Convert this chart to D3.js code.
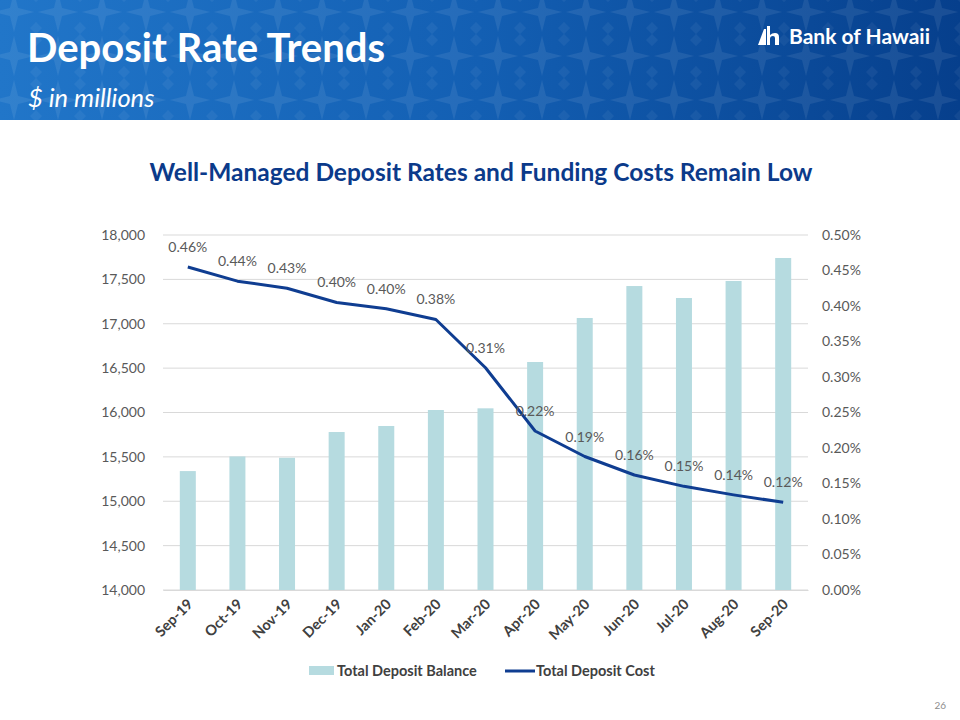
<!DOCTYPE html>
<html><head><meta charset="utf-8">
<script src="https://cdn.jsdelivr.net/npm/d3@7"></script>
<style>body{margin:0;background:#fff;}svg{display:block;font-family:Lato,"Open Sans",sans-serif;}</style>
</head><body>
<script>
const months = ["Sep-19","Oct-19","Nov-19","Dec-19","Jan-20","Feb-20","Mar-20","Apr-20","May-20","Jun-20","Jul-20","Aug-20","Sep-20"];
const balance = [15340,15505,15490,15780,15848,16028,16047,16569,17065,17425,17290,17482,17741];
const cost = [0.455,0.435,0.425,0.405,0.396,0.381,0.313,0.224,0.188,0.162,0.146,0.134,0.1235];
const costLabels = ["0.46%","0.44%","0.43%","0.40%","0.40%","0.38%","0.31%","0.22%","0.19%","0.16%","0.15%","0.14%","0.12%"];
const leftTicks = [14000,14500,15000,15500,16000,16500,17000,17500,18000];
const rightTicks = [0,0.05,0.10,0.15,0.20,0.25,0.30,0.35,0.40,0.45,0.50];

const W=960,H=720;
const svg=d3.select("body").append("svg").attr("width",W).attr("height",H);
const defs=svg.append("defs");
const g1=defs.append("linearGradient").attr("id","hdr").attr("x1","0").attr("x2","1").attr("y1","0").attr("y2","0");
g1.append("stop").attr("offset","0").attr("stop-color","#2176c9");
g1.append("stop").attr("offset","0.5").attr("stop-color","#135fb3");
g1.append("stop").attr("offset","1").attr("stop-color","#063f8c");
const pat=defs.append("pattern").attr("id","star").attr("width",44).attr("height",44).attr("patternUnits","userSpaceOnUse").attr("x",-8).attr("y",-10);
pat.append("path").attr("d","M22,2 L26,18 L42,22 L26,26 L22,42 L18,26 L2,22 L18,18Z").attr("fill","#ffffff").attr("opacity",0.08);
pat.append("path").attr("d","M0,0 L6,6 L0,12Z M44,0 L38,6 L44,12Z M0,44 L6,38 L0,32Z M44,44 L38,38 L44,32Z").attr("fill","#ffffff").attr("opacity",0.05);

svg.append("rect").attr("width",W).attr("height",120).attr("fill","url(#hdr)");
svg.append("rect").attr("width",W).attr("height",120).attr("fill","url(#star)");
svg.append("text").attr("x",27).attr("y",62).attr("fill","#fff").attr("font-size",40).attr("font-weight","bold").text("Deposit Rate Trends");
svg.append("text").attr("x",28).attr("y",107).attr("fill","#fff").attr("font-size",25.5).attr("font-style","italic").text("$ in millions");
// logo
const lg=svg.append("g").attr("transform","translate(758,26)");
lg.append("path").attr("d","M0,19 L6,3 L8,3 L8,19Z").attr("fill","#fff");
lg.append("path").attr("d","M9,0 L12,0 L12,9 Q14,7 17,7 Q21,7 21,11 L21,19 L17,19 L17,12 Q17,10 15,10 Q12,10 12,13 L12,19 L9,19Z").attr("fill","#fff");
svg.append("text").attr("x",789).attr("y",44).attr("fill","#fff").attr("font-size",21).attr("font-weight","bold").text("Bank of Hawaii");

// chart title
svg.append("text").attr("x",481).attr("y",181).attr("text-anchor","middle").attr("fill","#0b3a8a").attr("font-size",24.5).attr("font-weight","bold").text("Well-Managed Deposit Rates and Funding Costs Remain Low");

const x=d3.scaleBand().domain(months).range([163,808]);
const yL=d3.scaleLinear().domain([14000,18000]).range([590,235]);
const yR=d3.scaleLinear().domain([0,0.5]).range([590,235]);

// gridlines
svg.append("g").selectAll("line").data(leftTicks).join("line")
 .attr("x1",163).attr("x2",808).attr("y1",d=>yL(d)).attr("y2",d=>yL(d)).attr("stroke","#d9d9d9").attr("stroke-width",1);

// left axis
const la=svg.append("g").attr("transform","translate(163,0)").call(d3.axisLeft(yL).tickValues(leftTicks).tickFormat(d3.format(",")).tickSize(0).tickPadding(18));
la.select(".domain").remove();
la.selectAll("text").attr("font-size",14).attr("fill","#595959").attr("font-family","Lato, sans-serif");
// right axis
const ra=svg.append("g").attr("transform","translate(808,0)").call(d3.axisRight(yR).tickValues(rightTicks).tickFormat(d=>d.toFixed(2)+"%").tickSize(0).tickPadding(14));
ra.select(".domain").remove();
ra.selectAll("text").attr("font-size",14).attr("fill","#595959").attr("font-family","Lato, sans-serif");

// bars
const bw=16;
svg.append("g").selectAll("rect").data(months).join("rect")
 .attr("x",(d,i)=>x(d)+x.bandwidth()/2-bw/2).attr("width",bw)
 .attr("y",(d,i)=>yL(balance[i])).attr("height",(d,i)=>590-yL(balance[i]))
 .attr("fill","#b6dbe0");

// bottom axis
const xa=svg.append("g").attr("transform","translate(0,590)").call(d3.axisBottom(x).tickSize(0).tickPadding(0));
xa.select(".domain").attr("stroke","#d9d9d9");
xa.selectAll("text").attr("font-size",14.5).attr("font-weight","bold").attr("fill","#404040").attr("font-family","Lato, sans-serif")
 .attr("text-anchor","end").attr("dy",0).attr("transform","translate(6,15) rotate(-45)");

// line
const line=d3.line().x((d,i)=>x(months[i])+x.bandwidth()/2).y(d=>yR(d));
svg.append("path").datum(cost).attr("d",line).attr("fill","none").attr("stroke","#0f3d91").attr("stroke-width",3).attr("stroke-linejoin","round");
svg.append("g").selectAll("text").data(cost).join("text")
 .attr("x",(d,i)=>x(months[i])+x.bandwidth()/2).attr("y",d=>yR(d)-15)
 .attr("text-anchor","middle").attr("font-size",14).attr("fill","#595959").text((d,i)=>costLabels[i]);

// legend
const leg=svg.append("g");
leg.append("rect").attr("x",309).attr("y",666).attr("width",25).attr("height",9).attr("fill","#b6dbe0");
leg.append("text").attr("x",337).attr("y",676).attr("font-size",14.5).attr("font-weight","bold").attr("fill","#404040").text("Total Deposit Balance");
leg.append("line").attr("x1",505).attr("x2",535).attr("y1",671).attr("y2",671).attr("stroke","#0f3d91").attr("stroke-width",3);
leg.append("text").attr("x",536).attr("y",676).attr("font-size",14.5).attr("font-weight","bold").attr("fill","#404040").text("Total Deposit Cost");

svg.append("text").attr("x",946).attr("y",709).attr("text-anchor","end").attr("font-size",10).attr("fill","#8c8c8c").text("26");
</script>
</body></html>
